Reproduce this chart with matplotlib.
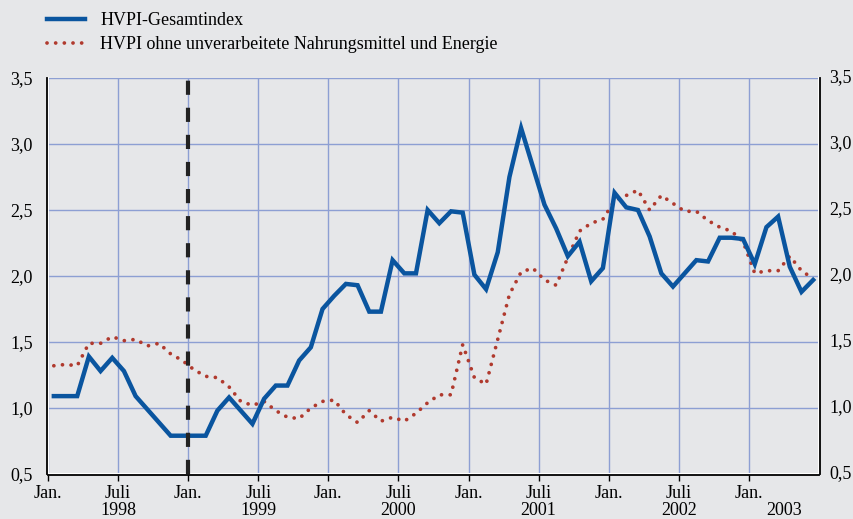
import numpy as np
import matplotlib
matplotlib.use("Agg")
import matplotlib.pyplot as plt
from matplotlib.lines import Line2D

plt.rcParams.update({'font.family': 'Liberation Serif', 'font.size': 13})

# monthly values Jan 1998 .. Jun 2003
hvpi_total = [
    1.09, 1.09, 1.09, 1.39, 1.28, 1.38, 1.28, 1.09, 0.99, 0.89, 0.79, 0.79,
    0.79, 0.79, 0.98, 1.08, 0.98, 0.88, 1.07, 1.17, 1.17, 1.36, 1.46, 1.75,
    1.85, 1.94, 1.93, 1.73, 1.73, 2.12, 2.02, 2.02, 2.50, 2.40, 2.49, 2.48,
    2.01, 1.90, 2.18, 2.75, 3.12, 2.83, 2.54, 2.36, 2.15, 2.26, 1.96, 2.06,
    2.63, 2.52, 2.50, 2.30, 2.02, 1.92, 2.02, 2.12, 2.11, 2.29, 2.29, 2.28,
    2.09, 2.37, 2.45, 2.07, 1.88, 1.97,
]
hvpi_core = [
    1.32, 1.33, 1.32, 1.49, 1.49, 1.54, 1.51, 1.52, 1.47, 1.49, 1.41, 1.36,
    1.29, 1.24, 1.23, 1.16, 1.05, 1.02, 1.05, 0.98, 0.93, 0.92, 1.00, 1.05,
    1.06, 0.95, 0.89, 0.98, 0.90, 0.93, 0.90, 0.96, 1.04, 1.10, 1.10, 1.48,
    1.23, 1.18, 1.52, 1.86, 2.03, 2.06, 1.97, 1.93, 2.14, 2.34, 2.40, 2.43,
    2.57, 2.61, 2.65, 2.50, 2.61, 2.55, 2.49, 2.49, 2.42, 2.37, 2.34, 2.26,
    2.02, 2.04, 2.04, 2.15, 2.04, 1.98,
]
years = [1998, 1999, 2000, 2001, 2002, 2003]
y_ticks = [0.5, 1.0, 1.5, 2.0, 2.5, 3.0, 3.5]
series_names = ['HVPI-Gesamtindex',
                'HVPI ohne unverarbeitete Nahrungsmittel und Energie']

bg = '#e6e7e9'
blue = '#0a559f'
red = '#b03a2e'
grid_col = '#8d9fd3'

x = 1998 + (np.arange(len(hvpi_total)) + 0.5) / 12
x_end = 1998 + 66 / 12

fig = plt.figure(figsize=(8.54, 5.19), dpi=100, facecolor=bg)
ax = fig.add_axes([48 / 854, 1 - 474 / 519, (819 - 48) / 854, (474 - 78) / 519])
ax.set_facecolor(bg)

ax.plot(x, hvpi_core, color=red, lw=2.7, linestyle=(0, (0.01, 2.3)),
        dash_capstyle='round', zorder=3)
ax.plot(x, hvpi_total, color=blue, lw=3.2, solid_joinstyle='miter', zorder=4)
ax.axvline(1999.0, color='#222222', lw=3, dashes=(3.4, 3.1), zorder=5)

ax.set_xlim(1998.0, x_end)
ax.set_ylim(0.5, 3.5)

xt = [1998 + k * 0.5 for k in range(11)]
ax.set_xticks(xt)
ax.set_xticklabels(['Jan.' if k % 2 == 0 else 'Juli' for k in range(11)])
ax.set_yticks(y_ticks)
ax.set_yticklabels([f'{v:.1f}'.replace('.', ',') for v in y_ticks])
ax.tick_params(axis='y', length=0, pad=10, labelright=False)
ax.tick_params(axis='x', length=4, width=1, direction='out', pad=3)

# right-hand labels, set a little closer to the frame
trans_y = ax.get_yaxis_transform()
for v in y_ticks:
    ax.text(1.0, v, f'{v:.1f}'.replace('.', ','), transform=trans_y,
            ha='left', va='center', fontsize=13)
for t in ax.texts:
    t.set_x(1.0 + 10 / 771)

ax.grid(True, color=grid_col, lw=1, zorder=0)
ax.set_axisbelow(True)

ax.spines['top'].set_visible(False)
for s in ['left', 'right', 'bottom']:
    ax.spines[s].set_color('black')
    ax.spines[s].set_linewidth(1.3)
    ax.spines[s].set_position(('outward', 1))
ax.axhline(0.5, color='white', lw=1.5, zorder=2, clip_on=False)
ax.axvline(1998.0, color='white', lw=1.5, zorder=2, clip_on=False)
ax.axvline(x_end, color='white', lw=1.5, zorder=2, clip_on=False)

# year labels under the July ticks (last year centred on the remaining months)
trans = ax.get_xaxis_transform()
for yr in years:
    xpos = yr + 0.5 if yr < 2003 else 2003 + 3 / 12
    ax.text(xpos, -41 / 396, str(yr), transform=trans, ha='center',
            va='baseline')

handles = [Line2D([], [], color=blue, lw=3.2),
           Line2D([], [], color=red, lw=2.7, linestyle=(0, (0.01, 2.3)),
                  dash_capstyle='round')]
fig.legend(handles, series_names, loc='upper left',
           bbox_to_anchor=(47 / 854, 1 - 12 / 519), frameon=False,
           borderpad=0, borderaxespad=0, handlelength=2.1,
           handletextpad=0.85, labelspacing=0.4, fontsize=13)

fig.savefig('out.png', dpi=100, facecolor=bg)
